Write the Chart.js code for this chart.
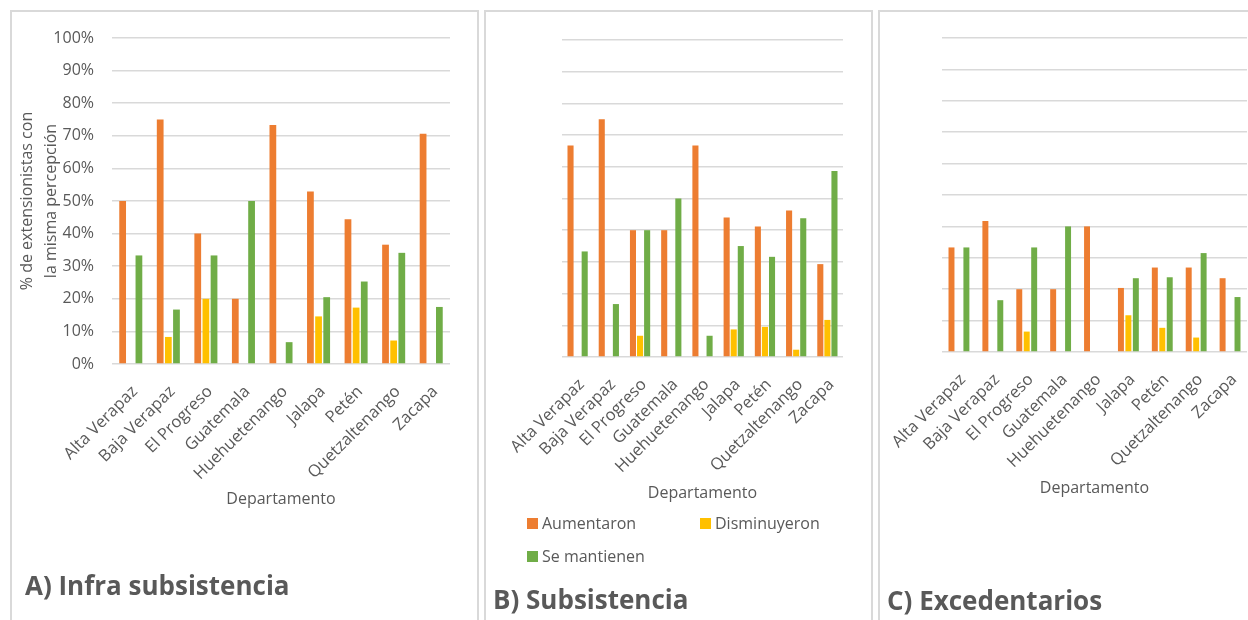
<!DOCTYPE html>
<html>
<head>
<meta charset="utf-8">
<script src="https://cdn.jsdelivr.net/npm/chart.js@4.4.1/dist/chart.umd.min.js"></script>
<style>
  body { margin: 0; width: 1248px; height: 620px; overflow: hidden; background: #fff; position: relative; font-family: 'Open Sans', sans-serif; }
  .frame { position: absolute; border: 2px solid #d9d9d9; box-sizing: border-box; }
  canvas { position: absolute; top: 0; }
  .title { position: absolute; font-weight: 700; font-size: 26px; line-height: 26px; color: #595959; white-space: nowrap; }
  .sw { position: absolute; width: 11px; height: 11px; }
  .lt { position: absolute; font-size: 16px; line-height: 20px; color: #595959; white-space: nowrap; }
</style>
</head>
<body>
<div class="frame" style="left:10px;top:10px;width:469px;height:640px"></div>
<div class="frame" style="left:484px;top:10px;width:389px;height:640px"></div>
<div class="frame" style="left:878px;top:10px;width:400px;height:640px"></div>

<canvas id="chartA" width="480" height="620" style="left:0"></canvas>
<canvas id="chartB" width="395" height="620" style="left:480px"></canvas>
<canvas id="chartC" width="372" height="620" style="left:876px"></canvas>

<div class="title" style="left:25px;top:572px">A) Infra subsistencia</div>
<div class="title" style="left:493px;top:586px">B) Subsistencia</div>
<div class="title" style="left:887px;top:587px">C) Excedentarios</div>

<!-- legend of panel B -->
<div class="sw" style="left:527px;top:518px;background:#ED7D31"></div>
<div class="lt" style="left:542px;top:513px">Aumentaron</div>
<div class="sw" style="left:700px;top:518px;background:#FFC000"></div>
<div class="lt" style="left:715px;top:513px">Disminuyeron</div>
<div class="sw" style="left:527px;top:551px;background:#70AD47"></div>
<div class="lt" style="left:542px;top:546px">Se mantienen</div>

<script>
// Departamentos
const departamentos = ['Alta Verapaz', 'Baja Verapaz', 'El Progreso', 'Guatemala', 'Huehuetenango', 'Jalapa', 'Petén', 'Quetzaltenango', 'Zacapa'];
const seriesNames = ['Aumentaron', 'Disminuyeron', 'Se mantienen'];
const yTicks = [0, 10, 20, 30, 40, 50, 60, 70, 80, 90, 100];

// A) Infra subsistencia (% de extensionistas)
const infraAumentaron   = [50, 75, 40, 20, 73.3, 52.9, 44.4, 36.6, 70.6];
const infraDisminuyeron = [0, 8.3, 20, 0, 0, 14.6, 17.3, 7.2, 0];
const infraSeMantienen  = [33.3, 16.7, 33.3, 50, 6.7, 20.5, 25.3, 34.1, 17.5];

// B) Subsistencia
const subsAumentaron   = [66.7, 75, 40, 40, 66.7, 44, 41.2, 46.2, 29.3];
const subsDisminuyeron = [0, 0, 6.7, 0, 0, 8.7, 9.5, 2.3, 11.7];
const subsSeMantienen  = [33.3, 16.7, 40, 50, 6.7, 35, 31.6, 43.8, 58.7];

// C) Excedentarios
const excAumentaron   = [33.3, 41.7, 20, 20, 40, 20.4, 26.9, 26.9, 23.5];
const excDisminuyeron = [0, 0, 6.5, 0, 0, 11.7, 7.7, 4.6, 0];
const excSeMantienen  = [33.3, 16.5, 33.3, 40, 0, 23.5, 23.8, 31.5, 17.5];

const colors = ['#ED7D31', '#FFC000', '#70AD47'];
const textColor = '#595959';
const gridColor = '#d9d9d9';

Chart.defaults.font.family = "'Open Sans', sans-serif";
Chart.defaults.color = textColor;

function buildChart(id, series, o) {
  return new Chart(document.getElementById(id), {
    type: 'bar',
    data: {
      labels: departamentos,
      datasets: series.map((d, i) => ({
        label: seriesNames[i],
        data: d,
        backgroundColor: colors[i],
        borderWidth: 0,
        categoryPercentage: o.cp,
        barPercentage: o.bp
      }))
    },
    options: {
      responsive: false,
      devicePixelRatio: 1,
      animation: false,
      layout: { padding: { left: 0, right: o.padRight, top: o.top, bottom: o.padBottom } },
      plugins: { legend: { display: false }, tooltip: { enabled: false } },
      scales: {
        x: {
          grid: { display: false, drawTicks: false },
          border: { display: false },
          ticks: {
            autoSkip: false, minRotation: 45, maxRotation: 45,
            padding: 18, labelOffset: 4, color: textColor, font: { size: 16.5 }
          },
          title: {
            display: true, text: 'Departamento', color: textColor,
            font: { size: 16, lineHeight: 1.2 }, padding: { top: 0, bottom: 0 }
          },
          // fixed axis band; rotated labels may spill past the plot edges
          afterFit: s => { s.height = o.xHeight; s.paddingLeft = 0; s.paddingRight = 0; }
        },
        y: {
          min: 0, max: 100,
          afterBuildTicks: s => { s.ticks = yTicks.map(v => ({ value: v })); },
          grid: { color: gridColor, lineWidth: 1.5, drawTicks: false },
          border: { display: false },
          ticks: {
            display: o.showY, padding: 18, color: textColor, font: { size: 16 },
            callback: v => v + '%'
          },
          title: {
            display: o.showY,
            text: ['% de extensionistas con', 'la misma percepción'],
            color: textColor,
            font: { size: 16, lineHeight: 1.5 },
            padding: { top: 15, bottom: 0 }
          },
          afterFit: s => { s.width = o.yWidth; }
        }
      }
    }
  });
}

buildChart('chartA', [infraAumentaron, infraDisminuyeron, infraSeMantienen],
  { cp: 0.65, bp: 0.83, top: 38, padRight: 30, padBottom: 111, xHeight: 145, yWidth: 112, showY: true });
buildChart('chartB', [subsAumentaron, subsDisminuyeron, subsSeMantienen],
  { cp: 0.68, bp: 0.86, top: 40, padRight: 32, padBottom: 117, xHeight: 146, yWidth: 82, showY: false });
buildChart('chartC', [excAumentaron, excDisminuyeron, excSeMantienen],
  { cp: 0.66, bp: 0.8, top: 38, padRight: 1, padBottom: 122, xHeight: 146, yWidth: 66, showY: false });
</script>
</body>
</html>
